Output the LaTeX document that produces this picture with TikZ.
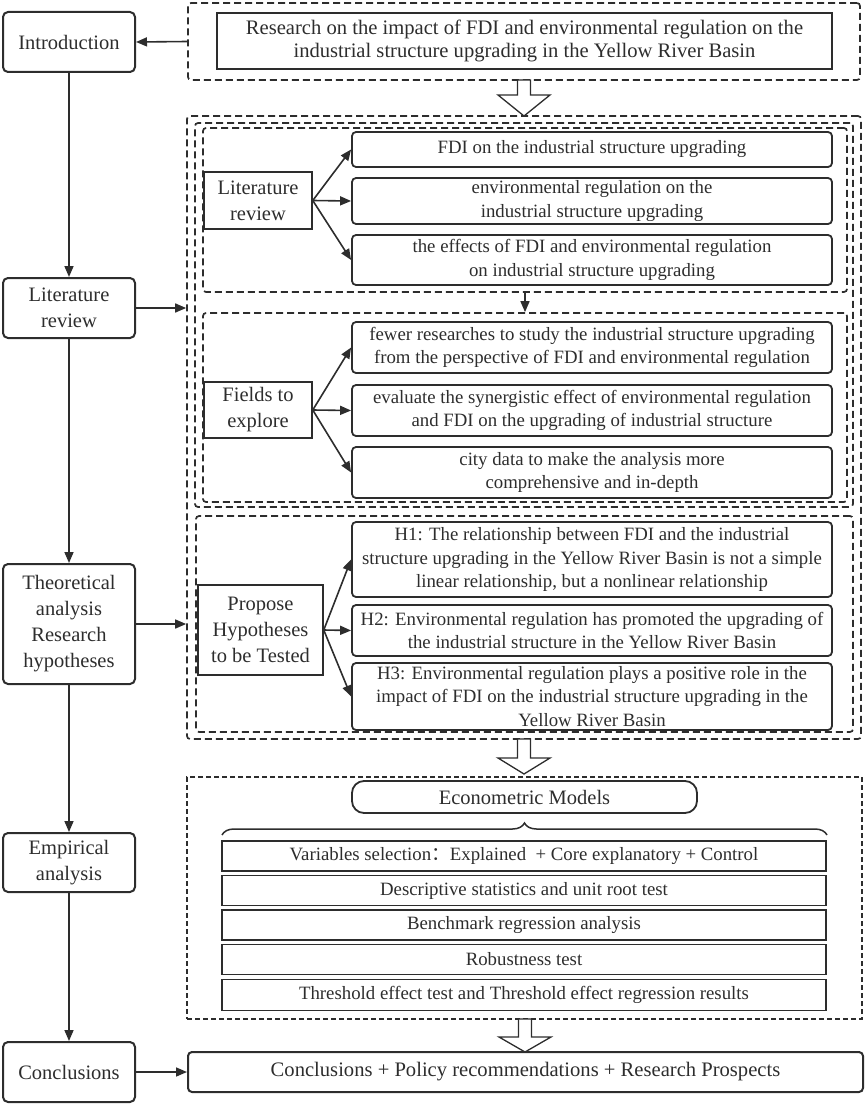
\documentclass[tikz,border=0pt]{standalone}
\usepackage{fontspec}
\setmainfont{Liberation Serif}
\newfontfamily\cjkfont{Noto Sans CJK SC}
\usetikzlibrary{arrows.meta,decorations.pathreplacing,calc}
\definecolor{ink}{RGB}{45,45,45}
\definecolor{txt}{RGB}{45,45,45}
\newcommand\hollowarr[4]{%
  \draw[ink, line width=1.3pt, fill=white] (#1-6.5,#2) -- (#1-6.5,#3) -- (#1-26,#3) -- (#1,#4) -- (#1+26,#3) -- (#1+6.5,#3) -- (#1+6.5,#2) -- cycle;}
\begin{document}
\begin{tikzpicture}[x=1pt,y=-1pt,
  leftbox/.style={draw=ink, line width=2pt, rounded corners=5pt, minimum width=132pt, align=center, font=\fontsize{20.5}{26}\selectfont, text=txt, inner sep=0pt},
  rbox/.style={draw=ink, line width=1.8pt, rounded corners=4pt, minimum width=480pt, align=center, font=\fontsize{18.8}{23.5}\selectfont, text=txt, inner sep=0pt},
  labbox/.style={draw=ink, line width=1.5pt, align=center, font=\fontsize{20.5}{26}\selectfont, text=txt, inner sep=0pt},
  dbox/.style={draw=ink, line width=1.7pt, dash pattern=on 7pt off 4pt, rounded corners=3pt, inner sep=0pt},
  fbox/.style={draw=ink, line width=1.2pt, dash pattern=on 5pt off 3pt, inner sep=0pt},
  rowbox/.style={draw=ink, line width=1.5pt, minimum width=604pt, minimum height=30pt, font=\fontsize{18.8}{23.5}\selectfont, text=txt, inner sep=0pt},
  arr/.style={draw=ink, line width=1.6pt, -{Triangle[length=11pt,width=9pt]}}
]
\useasboundingbox (0,0) rectangle (865,1105);

% ---------- left column ----------
\node[leftbox, minimum height=60pt] (intro) at (69,42) {Introduction};
\node[leftbox, minimum height=60pt] (litrev) at (69,308) {Literature\\review};
\node[leftbox, minimum height=120pt] (theo) at (69,624) {Theoretical\\analysis\\Research\\hypotheses};
\node[leftbox, minimum height=59pt] (emp) at (69,862.5) {Empirical\\analysis};
\node[leftbox, minimum height=60pt] (concl) at (69,1072) {Conclusions};

\draw[arr] (intro.south) -- (litrev.north);
\draw[arr] (litrev.south) -- (theo.north);
\draw[arr] (theo.south) -- (emp.north);
\draw[arr] (emp.south) -- (concl.north);

% ---------- top ----------
\node[dbox, minimum width=672pt, minimum height=77pt] (topbox) at (524,41.5) {};
\node[draw=ink, line width=1.5pt, minimum width=615pt, minimum height=56pt, align=center,
      font=\fontsize{20.6}{23.5}\selectfont, text=txt, inner sep=0pt] (title) at (524.5,41)
  {Research on the impact of FDI and environmental regulation on the\\industrial structure upgrading in the Yellow River Basin};
\draw[arr] (topbox.west) -- (intro.east);

% ---------- big middle box ----------
\node[dbox, minimum width=674pt, minimum height=623pt] (outer) at (524,427.5) {};
\node[dbox, minimum width=658pt, minimum height=384pt] (middle) at (524,315) {};
\node[dbox, minimum width=644pt, minimum height=164pt] (litsec) at (525,210) {};
\node[dbox, minimum width=644pt, minimum height=189pt] (fieldsec) at (525,407.5) {};
\node[dbox, minimum width=657pt, minimum height=216pt] (hypsec) at (524.5,624) {};

\hollowarr{524}{80}{95}{116}

\draw[arr] (litrev.east) -- (outer.west |- litrev.east);
\draw[arr] (theo.east) -- (outer.west |- theo.east);
\draw[arr] (litsec.south) -- (fieldsec.north);

% literature section
\node[labbox, minimum width=108pt, minimum height=57pt] (lit) at (258,200.5) {Literature\\review};
\node[rbox, minimum height=35pt] (b1) at (592,149.5) {FDI on the industrial structure upgrading};
\node[rbox, minimum height=46pt] (b2) at (592,201) {environmental regulation on the\\industrial structure upgrading};
\node[rbox, minimum height=50pt] (b3) at (592,260) {the effects of FDI and environmental regulation\\on industrial structure upgrading};
\draw[arr] (lit.east) -- (b1.west);
\draw[arr] (lit.east) -- (b2.west);
\draw[arr] (lit.east) -- (b3.west);

% fields section
\node[labbox, minimum width=108pt, minimum height=56pt] (fld) at (258,410) {Fields to\\explore};
\node[rbox, minimum height=51pt] (f1) at (592,347.5) {fewer researches to study the industrial structure upgrading\\from the perspective of FDI and environmental regulation};
\node[rbox, minimum height=51pt] (f2) at (592,410.5) {evaluate the synergistic effect of environmental regulation\\and FDI on the upgrading of industrial structure};
\node[rbox, minimum height=51pt] (f3) at (592,472.5) {city data to make the analysis more\\comprehensive and in-depth};
\draw[arr] (fld.east) -- (f1.west);
\draw[arr] (fld.east) -- (f2.west);
\draw[arr] (fld.east) -- (f3.west);

% hypotheses section
\node[labbox, minimum width=125pt, minimum height=90pt] (prop) at (260.5,630) {Propose\\Hypotheses\\to be Tested};
\node[rbox, minimum height=75pt] (h1) at (592,559.5) {H1: The relationship between FDI and the industrial\\structure upgrading in the Yellow River Basin is not a simple\\linear relationship, but a nonlinear relationship};
\node[rbox, minimum height=51pt] (h2) at (592,630.5) {H2: Environmental regulation has promoted the upgrading of\\the industrial structure in the Yellow River Basin};
\node[rbox, minimum height=67pt] (h3) at (592,696.5) {H3: Environmental regulation plays a positive role in the\\impact of FDI on the industrial structure upgrading in the\\Yellow River Basin};
\draw[arr] (prop.east) -- (h1.west);
\draw[arr] (prop.east) -- (h2.west);
\draw[arr] (prop.east) -- (h3.west);

\hollowarr{524}{739}{758}{774}

% ---------- empirical box ----------
\node[fbox, minimum width=675pt, minimum height=242pt] (emodel) at (524.5,898) {};
\node[draw=ink, line width=1.8pt, rounded corners=12pt, minimum width=345pt, minimum height=32pt,
      font=\fontsize{20.5}{26}\selectfont, text=txt, inner sep=0pt] (econ) at (524.5,797) {Econometric Models};
\draw[ink, line width=1.5pt, decorate, decoration={brace, amplitude=12pt}] (222,835) -- (827,835);
\node[rowbox] (r1) at (524,856) {Variables selection{\cjkfont ：}Explained\enspace+ Core explanatory + Control};
\node[rowbox] (r2) at (524,890.5) {Descriptive statistics and unit root test};
\node[rowbox] (r3) at (524,925) {Benchmark regression analysis};
\node[rowbox] (r4) at (524,959.5) {Robustness test};
\node[rowbox, minimum height=31pt] (r5) at (524,995) {Threshold effect test and Threshold effect regression results};

\hollowarr{525}{1019}{1037}{1052}

% ---------- conclusions ----------
\node[draw=ink, line width=2pt, rounded corners=4pt, minimum width=675pt, minimum height=40pt,
      font=\fontsize{20.6}{23}\selectfont, text=txt, inner sep=0pt] (cbox) at (525.5,1072)
  {Conclusions + Policy recommendations + Research Prospects};
\draw[arr] (concl.east) -- (cbox.west);
\end{tikzpicture}
\end{document}
